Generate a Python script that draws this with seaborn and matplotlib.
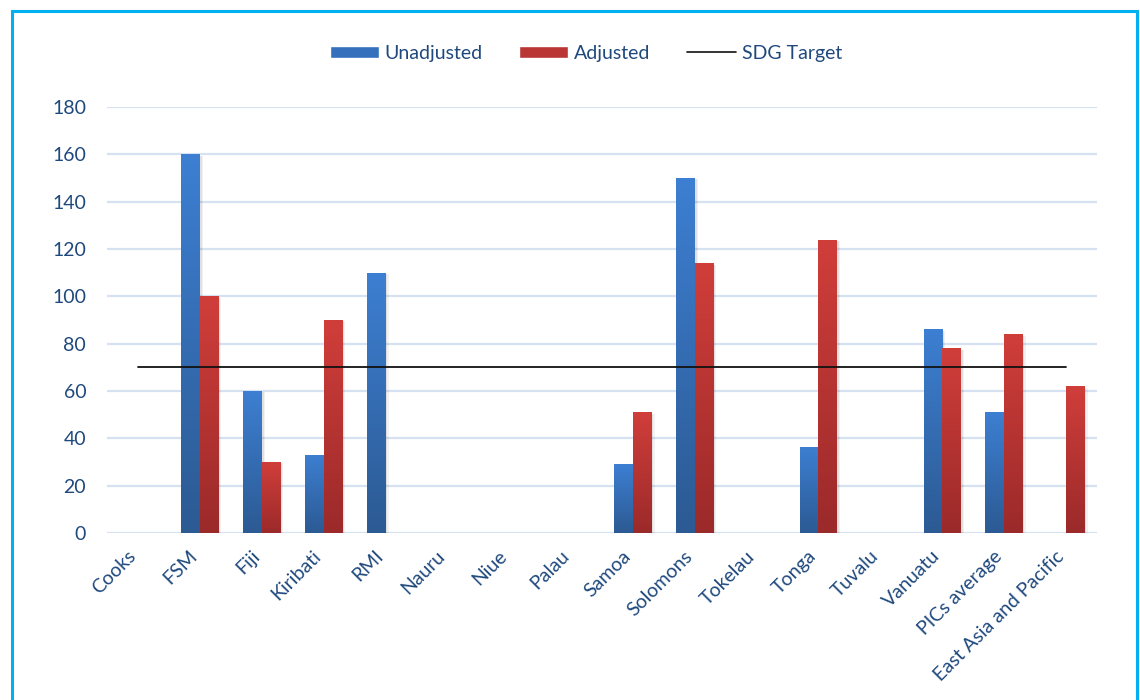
import numpy as np
import pandas as pd
import matplotlib
matplotlib.use("Agg")
import matplotlib.pyplot as plt
import matplotlib.transforms as mtransforms
import seaborn as sns
from matplotlib.colors import LinearSegmentedColormap
from matplotlib.patches import Rectangle, Patch
from matplotlib.lines import Line2D

categories = ["Cooks", "FSM", "Fiji", "Kiribati", "RMI", "Nauru", "Niue", "Palau",
              "Samoa", "Solomons", "Tokelau", "Tonga", "Tuvalu", "Vanuatu",
              "PICs average", "East Asia and Pacific"]
unadjusted = [np.nan, 160, 60, 33, 110, np.nan, np.nan, np.nan,
              29, 150, np.nan, 36.5, np.nan, 86, 51, np.nan]
adjusted = [np.nan, 100, 30, 90, np.nan, np.nan, np.nan, np.nan,
            51, 114, np.nan, 124, np.nan, 78, 84, 62]
sdg_target = 70
series_names = ["Unadjusted", "Adjusted"]
y_ticks = [0, 20, 40, 60, 80, 100, 120, 140, 160, 180]

df = pd.DataFrame({
    "country": categories * 2,
    "value": unadjusted + adjusted,
    "series": [series_names[0]] * len(categories) + [series_names[1]] * len(categories),
})

sns.set_theme(style="white")
plt.rcParams["font.family"] = ["Lato", "DejaVu Sans"]
text_color = "#1F497D"

fig = plt.figure(figsize=(11.4, 7), dpi=100)
ax = fig.add_axes([0.0939, 0.2386, 0.8682, 0.6085])

blue_top, blue_bot = "#3D7FD2", "#2C5A93"
red_top, red_bot = "#D03E3A", "#9B2A2A"
palette = {series_names[0]: "#3470bc", series_names[1]: "#ba3634"}

sns.barplot(data=df, x="country", y="value", hue="series", order=categories,
            hue_order=series_names, palette=palette, width=0.6, dodge=True,
            errorbar=None, ax=ax, legend=False, saturation=1, linewidth=0)

# Gradient fills on bars
grad = np.linspace(0, 1, 256).reshape(-1, 1)
cmaps = {
    palette[series_names[0]]: LinearSegmentedColormap.from_list("b", [blue_bot, blue_top]),
    palette[series_names[1]]: LinearSegmentedColormap.from_list("r", [red_bot, red_top]),
}
bars = [p for p in ax.patches if isinstance(p, Rectangle)]
for p in bars:
    h = p.get_height()
    if not np.isfinite(h) or h <= 0:
        continue
    x0, w = p.get_x(), p.get_width()
    fc = matplotlib.colors.to_hex(p.get_facecolor()).lower()
    cmap = cmaps.get(fc)
    if cmap is None:
        continue
    # soft shadow
    for k, a in [(0.05, 0.05), (0.03, 0.07)]:
        sh = Rectangle((x0 + k, -0.6), w, h, facecolor="#000000", alpha=a,
                       edgecolor="none", zorder=1.5)
        ax.add_patch(sh)
    im = ax.imshow(grad, extent=[x0, x0 + w, 0, h], origin="lower", cmap=cmap,
                   aspect="auto", zorder=2, interpolation="bilinear")
    im.set_clip_path(p)
    p.set_facecolor("none")
    p.set_edgecolor("none")
    p.set_zorder(2)

# SDG target line
ax.plot(range(len(categories)), [sdg_target] * len(categories), color="#111111",
        lw=1.3, zorder=3)

ax.set_xlim(-0.5, len(categories) - 0.5)
ax.set_ylim(0, 180)
ax.set_yticks(y_ticks)
ax.set_yticklabels([str(t) for t in y_ticks])
ax.yaxis.grid(True, color="#D6E2F1", lw=1.6)
ax.set_axisbelow(True)
for s in ax.spines.values():
    s.set_visible(False)
ax.set_xlabel("")
ax.set_ylabel("")
ax.tick_params(axis="y", length=0, pad=15, labelsize=14, labelcolor=text_color)
ax.tick_params(axis="x", length=0, pad=9, labelsize=14, labelcolor=text_color)
ax.set_xticks(range(len(categories)))
ax.set_xticklabels(categories, rotation=45, ha="right", rotation_mode="anchor")
offset = mtransforms.ScaledTranslation(-11 / 100, -2 / 100, fig.dpi_scale_trans)
for lbl in ax.get_xticklabels():
    lbl.set_transform(lbl.get_transform() + offset)

# Legend
handles = [Patch(facecolor="#3470bc"),
           Patch(facecolor="#ba3634"),
           Line2D([0], [0], color="#111111", lw=1.2)]
leg = fig.legend(handles, series_names + ["SDG Target"], loc="center",
                 bbox_to_anchor=(0.514, 0.924), ncol=3, frameon=False,
                 fontsize=14, handlelength=2.5, handleheight=0.6,
                 columnspacing=1.9, handletextpad=0.3)
for t in leg.get_texts():
    t.set_color(text_color)

# Figure border
border = Rectangle((12 / 1140, -0.05), (1137 - 12) / 1140, 1.05 - 11 / 700,
                   transform=fig.transFigure, fill=False, edgecolor="#00B0F0",
                   lw=2.2, clip_on=False)
fig.patches.append(border)

fig.savefig("out.png", dpi=100)
